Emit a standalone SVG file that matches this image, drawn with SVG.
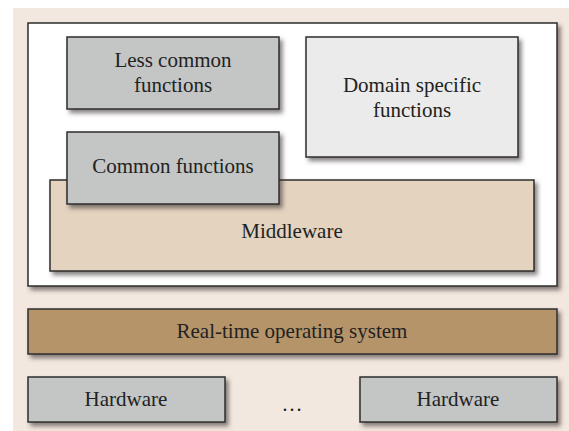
<svg xmlns="http://www.w3.org/2000/svg" width="569" height="431" viewBox="0 0 569 431">
<defs>
<filter id="sh" x="-10%" y="-10%" width="130%" height="140%">
<feDropShadow dx="3" dy="3.5" stdDeviation="2" flood-color="#3a3530" flood-opacity="0.6"/>
</filter>
</defs>
<style>
.box{stroke:#2e2e2e;stroke-width:1.5;filter:url(#sh)}
.grey{fill:#c4c6c5}
.light{fill:#ebebeb}
.mw{fill:#e3d3bf}
.os{fill:#b5946b}
.white{fill:#ffffff}
text{font-size:21px;fill:#222;text-anchor:middle}
</style>
<rect x="13" y="8" width="556" height="423" fill="#f2e8df"/>
<g font-family="Liberation Serif, Times New Roman, serif">
<g id="container"><rect class="box white" x="28" y="23" width="529" height="263"/></g>
<g id="middleware"><rect class="box mw" x="50" y="180" width="484" height="91"/><text x="292" y="238">Middleware</text></g>
<g id="less-common"><rect class="box grey" x="67" y="37" width="212" height="72"/><text x="173" y="67">Less common</text><text x="173" y="92">functions</text></g>
<g id="domain-specific"><rect class="box light" x="306" y="37" width="212" height="120"/><text x="412" y="92">Domain specific</text><text x="412" y="117">functions</text></g>
<g id="common"><rect class="box grey" x="67" y="132" width="212" height="72"/><text x="173" y="173">Common functions</text></g>
<g id="rtos"><rect class="box os" x="28" y="309" width="529" height="45"/><text x="292" y="338">Real-time operating system</text></g>
<g id="hardware1"><rect class="box grey" x="28" y="377" width="197" height="45"/><text x="126" y="406">Hardware</text></g>
<g id="hardware2"><rect class="box grey" x="360" y="377" width="197" height="45"/><text x="458" y="406">Hardware</text></g>
<g id="ellipsis"><text x="292" y="411">…</text></g>
</g>
<g id="connectors"></g>
</svg>
